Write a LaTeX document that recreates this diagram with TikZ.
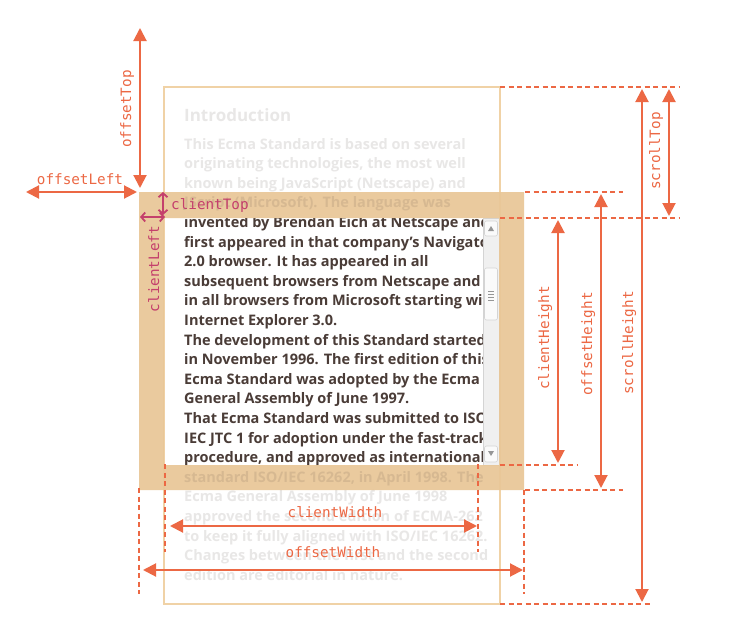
\documentclass[tikz,border=0pt]{standalone}
\usepackage{fontspec}
\setmainfont{Open Sans}
\setmonofont{DejaVu Sans Mono}
\usetikzlibrary{arrows.meta}
\definecolor{arrc}{RGB}{236,104,68}
\definecolor{magc}{RGB}{196,64,108}
\definecolor{bandc}{RGB}{233,199,151}
\definecolor{boxc}{RGB}{240,210,166}
\definecolor{txtc}{RGB}{74,60,55}
\definecolor{sbg}{RGB}{240,240,240}
\definecolor{sbd}{RGB}{212,212,212}
\definecolor{sba}{RGB}{150,150,150}
\tikzset{
  bodytext/.style={anchor=base west, inner sep=0pt, text=txtc, font=\bfseries\fontsize{14.5}{14.5}\selectfont},
  fadetext/.style={bodytext, text opacity=0.12},
  dimarrow/.style={draw=arrc, line width=2pt, {Triangle[length=13pt,width=13pt]}-{Triangle[length=13pt,width=13pt]}},
  smallarrow/.style={draw=magc, line width=1.8pt, line cap=round, {Straight Barb[length=4pt,width=9pt]}-{Straight Barb[length=4pt,width=9pt]}},
  guide/.style={draw=arrc, line width=1.6pt, dash pattern=on 5pt off 3.5pt},
  dimlabel/.style={inner sep=0pt, text=arrc, font=\ttfamily\fontsize{14.3}{14.3}\selectfont},
  maglabel/.style={dimlabel, text=magc},
  sbbtn/.style={draw=sbd, fill=white!96!gray, line width=0.6pt, rounded corners=2pt}
}
\begin{document}
\begin{tikzpicture}[x=1pt,y=-1pt]
\useasboundingbox (0,0) rectangle (737,621);
\fill[white] (0,0) rectangle (737,621);

% scrolled content outline
\draw[boxc, line width=1.5pt] (164,87) rectangle (500,604);

% visible (client) text
\begin{scope}
\clip (164,218) rectangle (483,465);
\foreach \t [count=\i from 5] in {
  {invented by Brendan Eich at Netscape and},
  {first appeared in that company’s Navigator},
  {2.0 browser. It has appeared in all},
  {subsequent browsers from Netscape and},
  {in all browsers from Microsoft starting with},
  {Internet Explorer 3.0.},
  {The development of this Standard started},
  {in November 1996. The first edition of this},
  {Ecma Standard was adopted by the Ecma},
  {General Assembly of June 1997.},
  {That Ecma Standard was submitted to ISO/},
  {IEC JTC 1 for adoption under the fast-track},
  {procedure, and approved as international}}
  \node[bodytext] (t\i) at (184,{144+(\i-1)*19.6+5}) {\t};
\end{scope}

% scrollbar
\draw[draw=sbd, fill=sbg, line width=0.6pt] (483,218) rectangle (499,465);
\draw[sbbtn] (484.5,221) rectangle (497.5,236);
\fill[sba] (488,231) -- (494,231) -- (491,226) -- cycle;
\draw[sbbtn] (484.5,268) rectangle (497.5,320);
\foreach \g in {291,294,297,300}
  \draw[sba, line width=0.6pt] (488,\g) -- (494,\g);
\draw[sbbtn] (484.5,446) rectangle (497.5,462);
\fill[sba] (488,451) -- (494,451) -- (491,456) -- cycle;

% border of the element
\fill[bandc, opacity=0.93, even odd rule] (139,192) rectangle (524,490) (164,218) rectangle (499,465);

% hidden (scrolled) text
\node[fadetext, font=\bfseries\fontsize{17}{17}\selectfont] (intro) at (184,121) {Introduction};
\foreach \t [count=\i from 1] in {
  {This Ecma Standard is based on several},
  {originating technologies, the most well},
  {known being JavaScript (Netscape) and},
  {JScript (Microsoft). The language was}}
  \node[fadetext] (t\i) at (184,{144+(\i-1)*19.6+5}) {\t};
\foreach \t [count=\i from 18] in {
  {standard ISO/IEC 16262, in April 1998. The},
  {Ecma General Assembly of June 1998},
  {approved the second edition of ECMA-262},
  {to keep it fully aligned with ISO/IEC 16262.},
  {Changes between the first and the second},
  {edition are editorial in nature.}}
  \node[fadetext] (t\i) at (184,{144+(\i-1)*19.6+5}) {\t};

% guide lines (dashed)
\coordinate (g1a) at (500,87);  \coordinate (g1b) at (680,87);
\coordinate (g2a) at (525,192); \coordinate (g2b) at (623,192);
\coordinate (g3a) at (500,218); \coordinate (g3b) at (680,218);
\coordinate (g4a) at (500,465); \coordinate (g4b) at (577,465);
\coordinate (g5a) at (525,490); \coordinate (g5b) at (623,490);
\coordinate (g6a) at (500,604); \coordinate (g6b) at (652,604);
\coordinate (v1a) at (165,464); \coordinate (v1b) at (165,552);
\coordinate (v2a) at (478,464); \coordinate (v2b) at (478,552);
\coordinate (v3a) at (139,488); \coordinate (v3b) at (139,594);
\coordinate (v4a) at (524,490); \coordinate (v4b) at (524,594);
\foreach \p in {g1,g2,g3,g4,g5,g6,v1,v2,v3,v4}
  \draw[guide] (\p a) -- (\p b);

% offsetTop / offsetLeft
\coordinate (oTa) at (140,28);  \coordinate (oTb) at (140,188);
\draw[dimarrow] (oTa) -- (oTb);
\node[dimlabel, rotate=90, anchor=base] (loT) at (131,109) {offsetTop};
\coordinate (oLa) at (26,192);  \coordinate (oLb) at (137,192);
\draw[dimarrow] (oLa) -- (oLb);
\node[dimlabel, anchor=base] (loL) at (80,184) {offsetLeft};

% clientTop / clientLeft
\coordinate (cTa) at (163,192); \coordinate (cTb) at (163,215);
\draw[smallarrow] (cTa) -- (cTb);
\node[maglabel, anchor=base west] (lcT) at (171,209) {clientTop};
\coordinate (cLa) at (140,217); \coordinate (cLb) at (165,217);
\draw[smallarrow] (cLa) -- (cLb);
\node[maglabel, rotate=90, anchor=base] (lcL) at (159,269) {clientLeft};

% heights
\coordinate (cHa) at (558,220); \coordinate (cHb) at (558,463);
\draw[dimarrow] (cHa) -- (cHb);
\node[dimlabel, rotate=90, anchor=base] (lcH) at (549,338) {clientHeight};
\coordinate (oHa) at (601,194); \coordinate (oHb) at (601,488);
\draw[dimarrow] (oHa) -- (oHb);
\node[dimlabel, rotate=90, anchor=base] (loH) at (592,344) {offsetHeight};
\coordinate (sHa) at (642,89); \coordinate (sHb) at (642,602);
\draw[dimarrow] (sHa) -- (sHb);
\node[dimlabel, rotate=90, anchor=base] (lsH) at (633,343) {scrollHeight};
\coordinate (sTa) at (669,89); \coordinate (sTb) at (669,216);
\draw[dimarrow] (sTa) -- (sTb);
\node[dimlabel, rotate=90, anchor=base] (lsT) at (660,151) {scrollTop};

% widths
\coordinate (cWa) at (170,526); \coordinate (cWb) at (477,526);
\draw[dimarrow] (cWa) -- (cWb);
\node[dimlabel, anchor=base] (lcW) at (335,517) {clientWidth};
\coordinate (oWa) at (143,570); \coordinate (oWb) at (523,570);
\draw[dimarrow] (oWa) -- (oWb);
\node[dimlabel, anchor=base] (loW) at (333,557) {offsetWidth};
\end{tikzpicture}
\end{document}
